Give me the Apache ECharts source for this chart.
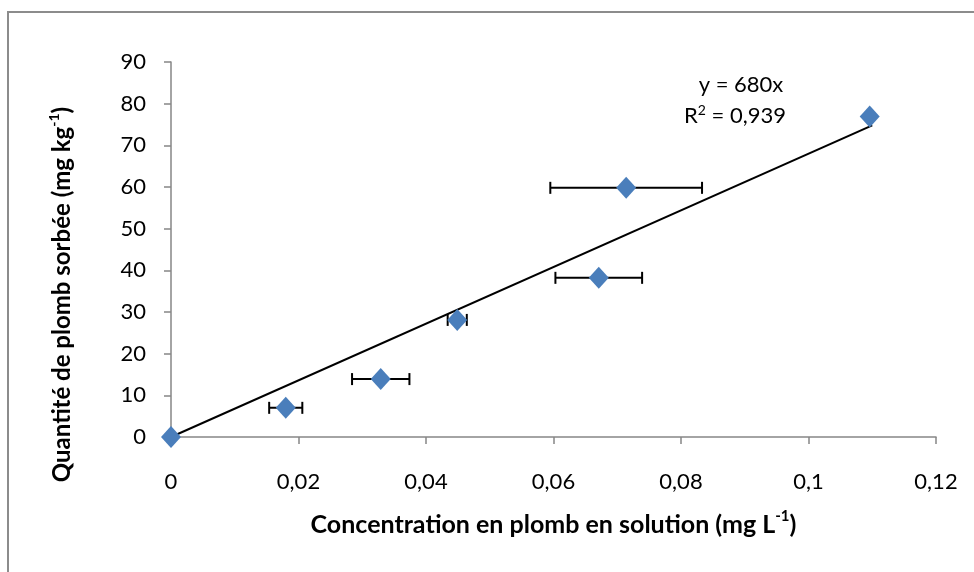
<!DOCTYPE html>
<html>
<head>
<meta charset="utf-8">
<script src="https://cdn.jsdelivr.net/npm/echarts@6/dist/echarts.min.js"></script>
<style>
  html, body { margin: 0; padding: 0; background: #fff; }
  #chart { width: 974px; height: 572px; }
</style>
</head>
<body>
<div id="chart"></div>
<script>
// donnees
const concX = [0, 0.018, 0.0329, 0.0449, 0.0671, 0.0714, 0.1096];
const qtY = [0, 7.0, 13.9, 28.1, 38.2, 59.8, 76.9];
const errX = [0, 0.0026, 0.0045, 0.0015, 0.0068, 0.0119, 0];
const slope = 680;
const trendEndX = 0.1100;
const xTicks = [0, 0.02, 0.04, 0.06, 0.08, 0.1, 0.12];
const yTicks = [0, 10, 20, 30, 40, 50, 60, 70, 80, 90];

const FONT = 'Lato';
const axisGray = '#868686';

let points = concX.map((x, i) => [x, qtY[i]]);
let errData = concX.map((x, i) => [x - errX[i], x + errX[i], qtY[i]]).filter((d, i) => errX[i] > 0);
let trend = [[0, 0], [trendEndX, slope * trendEndX]];

const fmtNum = (v) => String(v).replace('.', ',');

const makeRich = (size) => ({
        t: { fontFamily: FONT, fontSize: size, fontWeight: 'bold', color: '#000', lineHeight: size + 6 },
        s: { fontFamily: FONT, fontSize: Math.round(size * 0.6), fontWeight: 'bold', color: '#000', verticalAlign: 'top', lineHeight: size + 6 }
});

let option = {
        animation: false,
        grid: {
                left: 171,
                right: 38,
                top: 62,
                bottom: 135
        },
        graphic: [{
                type: 'rect',
                shape: { x: 8, y: 12, width: 1000, height: 600 },
                style: { fill: 'none', stroke: '#8c8c8c', lineWidth: 2 },
                silent: true
        }, {
                type: 'text',
                x: 741, y: 85,
                style: {
                        text: 'y = 680x',
                        font: '22px ' + FONT,
                        fill: '#000',
                        align: 'center',
                        verticalAlign: 'middle'
                }
        }, {
                type: 'text',
                x: 735, y: 116,
                style: {
                        text: '{n|R}{s|2}{n| = 0,939}',
                        align: 'center',
                        verticalAlign: 'middle',
                        rich: {
                                n: { fontFamily: FONT, fontSize: 22, color: '#000', lineHeight: 26 },
                                s: { fontFamily: FONT, fontSize: 14, color: '#000', verticalAlign: 'top', lineHeight: 26 }
                        }
                }
        }],
        xAxis: {
                type: 'value',
                min: xTicks[0],
                max: xTicks[xTicks.length - 1],
                interval: 0.02,
                name: '{t|Concentration en plomb en solution (mg L}{s|-1}{t|)}',
                nameLocation: 'middle',
                nameGap: 72,
                nameTextStyle: { rich: makeRich(25) },
                splitLine: { show: false },
                axisLine: { show: true, onZero: false, lineStyle: { color: axisGray, width: 1.5 } },
                axisTick: { show: true, length: 7, lineStyle: { color: axisGray, width: 1.5 } },
                axisLabel: {
                        margin: 34,
                        fontFamily: FONT,
                        fontSize: 22,
                        color: '#000',
                        formatter: fmtNum
                }
        },
        yAxis: {
                type: 'value',
                min: yTicks[0],
                max: yTicks[yTicks.length - 1],
                interval: 10,
                name: '{t|Quantité de plomb sorbée (mg kg}{s|-1}{t|)}',
                nameLocation: 'middle',
                nameGap: 94,
                nameRotate: 90,
                nameTextStyle: { rich: makeRich(24), padding: [0, 90, 0, 0] },
                splitLine: { show: false },
                axisLine: { show: true, onZero: false, lineStyle: { color: axisGray, width: 1.5 } },
                axisTick: { show: true, length: 7, lineStyle: { color: axisGray, width: 1.5 } },
                axisLabel: {
                        margin: 25,
                        fontFamily: FONT,
                        fontSize: 22,
                        color: '#000'
                }
        },
        series: [{
                // droite de regression
                name: 'trend',
                type: 'line',
                data: trend,
                symbol: 'none',
                lineStyle: { color: '#000', width: 2 },
                z: 3
        }, {
                // barres d'erreur horizontales
                name: 'err',
                type: 'custom',
                data: errData,
                renderItem: function (params, api) {
                        let p1 = api.coord([api.value(0), api.value(2)]);
                        let p2 = api.coord([api.value(1), api.value(2)]);
                        let cap = 6;
                        let st = { stroke: '#000', lineWidth: 2 };
                        return {
                                type: 'group',
                                children: [
                                        { type: 'line', shape: { x1: p1[0], y1: p1[1], x2: p2[0], y2: p2[1] }, style: st },
                                        { type: 'line', shape: { x1: p1[0], y1: p1[1] - cap, x2: p1[0], y2: p1[1] + cap }, style: st },
                                        { type: 'line', shape: { x1: p2[0], y1: p2[1] - cap, x2: p2[0], y2: p2[1] + cap }, style: st }
                                ]
                        };
                },
                z: 2
        }, {
                name: 'points',
                type: 'scatter',
                data: points,
                symbol: 'diamond',
                symbolSize: [20, 22],
                itemStyle: { color: '#4a7ebb', opacity: 1 },
                z: 4
        }]
};

let chart = echarts.init(document.getElementById('chart'));
chart.setOption(option);
</script>
</body>
</html>
